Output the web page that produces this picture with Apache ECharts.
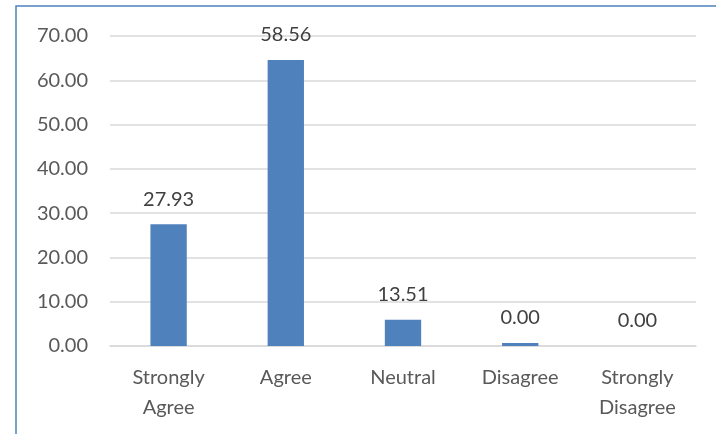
<!DOCTYPE html>
<html>
<head>
<meta charset="utf-8">
<script src="https://cdn.jsdelivr.net/npm/echarts@6/dist/echarts.min.js"></script>
<style>
html,body{margin:0;padding:0;background:#fff;}
#c{width:716px;height:434px;}
</style>
</head>
<body>
<div id="c"></div>
<script>
// Categories along the x axis
const categories = ['Strongly\nAgree', 'Agree', 'Neutral', 'Disagree', 'Strongly\nDisagree'];
// Bar heights as drawn in the picture
const barValues = [27.5, 64.6, 5.9, 0.7, 0];
// Data labels as printed above the bars
const labelTexts = ['27.93', '58.56', '13.51', '0.00', '0.00'];
// Y axis ticks
const yMin = 0, yMax = 70, yStep = 10;

const FONT = 'Lato';
const chart = echarts.init(document.getElementById('c'), null, {renderer: 'canvas'});
chart.setOption({
  animation: false,
  backgroundColor: '#fff',
  graphic: [{
    type: 'rect',
    shape: {x: 16, y: 6, width: 760, height: 500},
    style: {fill: 'none', stroke: '#4f81bd', lineWidth: 1.5},
    z: 100
  }],
  grid: {left: 110, right: 20, top: 36, bottom: 88, containLabel: false},
  xAxis: {
    type: 'category',
    data: categories,
    axisLine: {show: true, lineStyle: {color: '#d9d9d9', width: 1.5}},
    axisTick: {show: false},
    axisLabel: {color: '#595959', fontFamily: FONT, fontSize: 20, lineHeight: 30, margin: 17, interval: 0}
  },
  yAxis: {
    type: 'value',
    min: yMin, max: yMax, interval: yStep,
    axisLine: {show: false},
    axisTick: {show: false},
    splitLine: {lineStyle: {color: '#d9d9d9', width: 1.5}},
    axisLabel: {color: '#595959', fontFamily: FONT, fontSize: 20, margin: 22,
      formatter: v => v.toFixed(2)}
  },
  series: [{
    type: 'bar',
    data: barValues,
    barWidth: '31%',
    itemStyle: {color: '#4f81bd'},
    label: {
      show: true, position: 'top', distance: 15,
      color: '#404040', fontFamily: FONT, fontSize: 20,
      formatter: p => labelTexts[p.dataIndex]
    }
  }]
});
</script>
</body>
</html>
